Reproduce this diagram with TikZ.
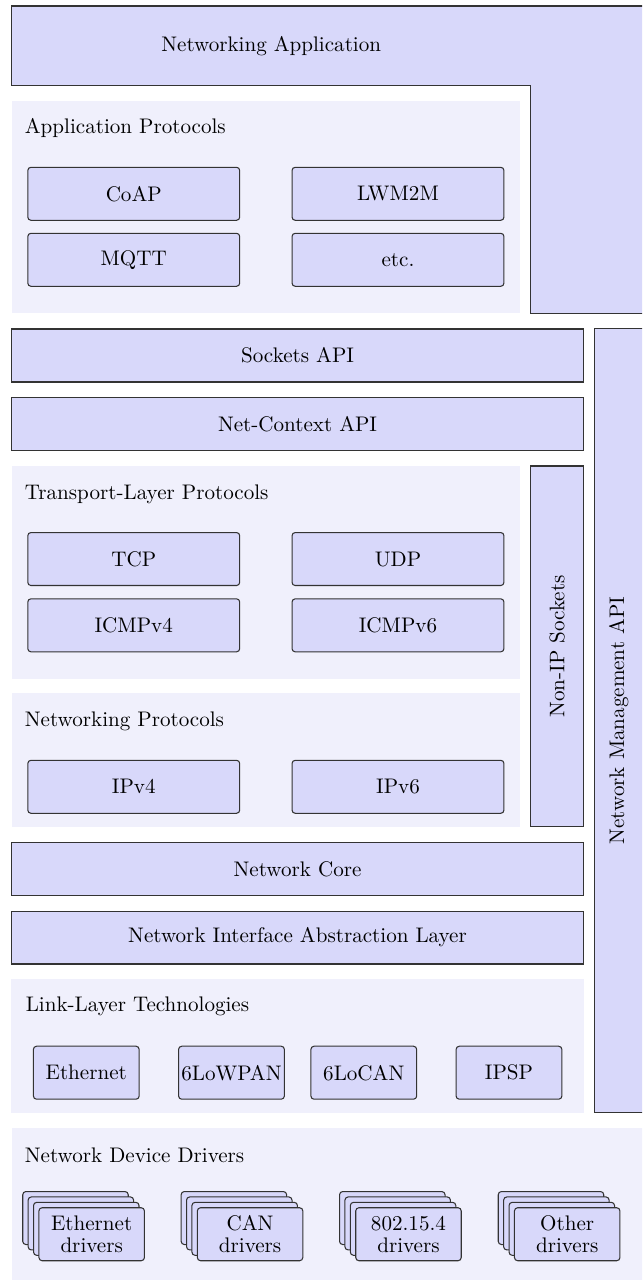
\documentclass[tikz,border=0pt]{standalone}
\usepackage{xcolor}
\usepackage{tikz}
\definecolor{boxfill}{HTML}{D8D8FA}
\definecolor{panelfill}{HTML}{F0F0FC}
\definecolor{edgecol}{HTML}{333333}
\tikzset{
  layerbox/.style={draw=edgecol,fill=boxfill,line width=0.5pt,minimum height=0.883cm,inner sep=0pt},
  protobox/.style={layerbox,rounded corners=1.5pt,minimum width=3.532cm},
  linkbox/.style={protobox,minimum width=1.763cm},
  drvbox/.style={protobox,minimum width=1.758cm,align=center,font={\fontsize{10pt}{10.5pt}\selectfont}},
  panel/.style={fill=panelfill,inner sep=0pt},
  paneltitle/.style={anchor=west,inner sep=0pt}
}

\begin{document}
\begin{tikzpicture}
    \useasboundingbox (0,0) rectangle (10.7,-21.333);
    \clip (0,0) rectangle (10.7,-21.333);
    % application on top
    \draw[layerbox] (0.192,-0.1) -- (10.8,-0.1) -- (10.8,-5.222) -- (8.848,-5.222) -- (8.848,-1.428) -- (0.192,-1.428) -- cycle;
    \node (app) at (4.52,-0.765) {Networking Application};
    % application protocols
    \node[panel,minimum width=8.478cm,minimum height=3.544cm] (apppanel) at (4.431,-3.45) {};
    \node[paneltitle] (apptitle) at (0.408,-2.133) {Application Protocols};
    \node[protobox] (coap) at (2.229,-3.23) {CoAP};
    \node[protobox] (lwm2m) at (6.633,-3.23) {LWM2M};
    \node[protobox] (mqtt) at (2.229,-4.33) {MQTT};
    \node[protobox] (etc) at (6.633,-4.33) {etc.};
    % APIs
    \node[layerbox,minimum width=9.535cm] (sock) at (4.959,-5.925) {Sockets API};
    \node[layerbox,minimum width=9.535cm] (netctx) at (4.959,-7.07) {Net-Context API};
    \node[layerbox,rotate=90,minimum width=13.055cm,minimum height=0.815cm] (mgmt) at (10.3125,-12.01) {Network Management API};
    % transport
    \node[panel,minimum width=8.478cm,minimum height=3.55cm] (trpanel) at (4.431,-9.537) {};
    \node[paneltitle] (trtitle) at (0.408,-8.233) {Transport-Layer Protocols};
    \node[protobox] (tcp) at (2.229,-9.317) {TCP};
    \node[protobox] (udp) at (6.633,-9.317) {UDP};
    \node[protobox] (icmp4) at (2.229,-10.422) {ICMPv4};
    \node[protobox] (icmp6) at (6.633,-10.422) {ICMPv6};
    \node[layerbox,rotate=90,minimum width=6.011cm,minimum height=0.885cm] (nonip) at (9.284,-10.772) {Non-IP Sockets};
    % networking
    \node[panel,minimum width=8.478cm,minimum height=2.228cm] (netpanel) at (4.431,-12.669) {};
    \node[paneltitle] (nettitle) at (0.408,-12.017) {Networking Protocols};
    \node[protobox] (ipv4) at (2.229,-13.113) {IPv4};
    \node[protobox] (ipv6) at (6.633,-13.113) {IPv6};
    \node[layerbox,minimum width=9.535cm] (core) at (4.959,-14.48) {Network Core};
    \node[layerbox,minimum width=9.535cm] (nial) at (4.959,-15.625) {Network Interface Abstraction Layer};
    % link layer
    \node[panel,minimum width=9.535cm,minimum height=2.228cm] (linkpanel) at (4.959,-17.436) {};
    \node[paneltitle] (linktitle) at (0.423,-16.778) {Link-Layer Technologies};
    \node[linkbox] (eth) at (1.438,-17.878) {Ethernet};
    \node[linkbox] (lowpan) at (3.858,-17.878) {6LoWPAN};
    \node[linkbox] (locan) at (6.063,-17.878) {6LoCAN};
    \node[linkbox] (ipsp) at (8.483,-17.878) {IPSP};
    % drivers
    \node[panel,minimum width=10.608cm,minimum height=2.705cm] (drvpanel) at (5.496,-20.1475) {};
    \node[paneltitle] (drvtitle) at (0.408,-19.25) {Network Device Drivers};
    \foreach \x/\nm/\lbl in {1.528/ethdrv/Ethernet, 4.168/candrv/CAN, 6.808/ieeedrv/802.15.4, 9.453/othdrv/Other}{
      \foreach \k in {3,2,1}
        \node[drvbox] (\nm\k) at ({\x-0.09*\k},{-20.57+0.09*\k}) {};
      \node[drvbox] (\nm) at (\x,-20.57) {\lbl\\drivers};
    }
  \end{tikzpicture}
\end{document}
